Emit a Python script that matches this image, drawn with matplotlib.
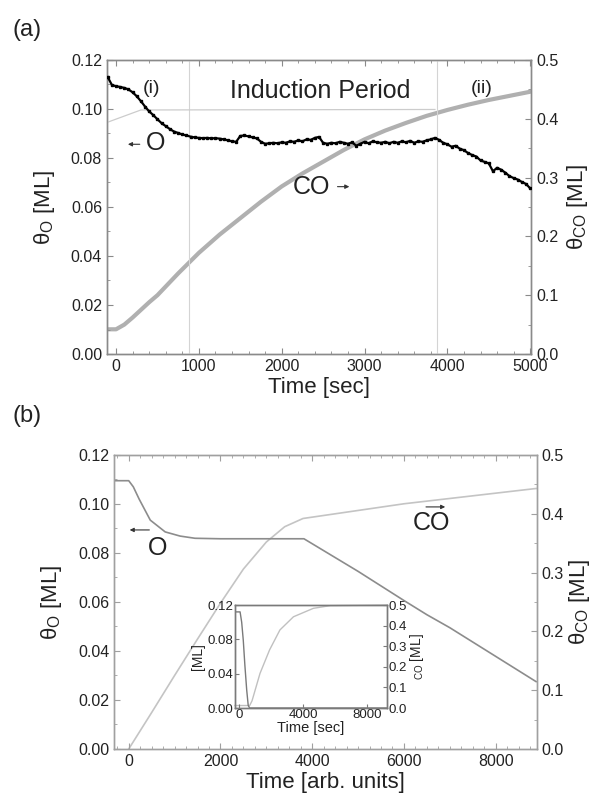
import matplotlib
matplotlib.use('Agg')
import matplotlib.pyplot as plt
from matplotlib.ticker import MultipleLocator, FormatStrFormatter

plt.rcParams['font.family'] = ['Liberation Sans', 'DejaVu Sans']
plt.rcParams['mathtext.fontset'] = 'custom'
plt.rcParams['mathtext.rm'] = 'Liberation Sans'
plt.rcParams['mathtext.it'] = 'Liberation Sans:italic'

# ---- panel (a): measured coverages ----
a_time_o = [-100, -50, 0, 50, 100, 150, 200, 250, 300, 350, 400, 450, 500, 550, 600, 650,
            700, 750, 800, 850, 900, 950, 1000, 1050, 1100, 1150, 1200, 1250, 1300, 1350,
            1400, 1450, 1500, 1550, 1600, 1650, 1700, 1750, 1800, 1850, 1900, 1950, 2000,
            2050, 2100, 2150, 2200, 2250, 2300, 2350, 2400, 2450, 2500, 2550, 2600, 2650,
            2700, 2750, 2800, 2850, 2900, 2950, 3000, 3050, 3100, 3150, 3200, 3250, 3300,
            3350, 3400, 3450, 3500, 3550, 3600, 3650, 3700, 3750, 3800, 3850, 3900, 3950,
            4000, 4050, 4100, 4150, 4200, 4250, 4300, 4350, 4400, 4450, 4500, 4550, 4600,
            4650, 4700, 4750, 4800, 4850, 4900, 4950, 5000]
a_theta_o = [0.1130, 0.1098, 0.1093, 0.1090, 0.1086, 0.1080, 0.1068, 0.1052, 0.1032, 0.1010,
             0.0990, 0.0975, 0.0958, 0.0942, 0.0930, 0.0918, 0.0908, 0.0902, 0.0896, 0.0892,
             0.0887, 0.0884, 0.0882, 0.0881, 0.0882, 0.0880, 0.0881, 0.0879, 0.0876, 0.0872,
             0.0868, 0.0866, 0.0890, 0.0892, 0.0888, 0.0884, 0.0880, 0.0866, 0.0858, 0.0860,
             0.0862, 0.0860, 0.0864, 0.0862, 0.0868, 0.0866, 0.0872, 0.0868, 0.0876, 0.0874,
             0.0882, 0.0886, 0.0862, 0.0858, 0.0862, 0.0860, 0.0866, 0.0862, 0.0858, 0.0864,
             0.0850, 0.0858, 0.0866, 0.0860, 0.0868, 0.0864, 0.0862, 0.0866, 0.0860, 0.0866,
             0.0862, 0.0868, 0.0864, 0.0870, 0.0862, 0.0868, 0.0866, 0.0872, 0.0876, 0.0882,
             0.0874, 0.0862, 0.0856, 0.0846, 0.0850, 0.0838, 0.0832, 0.0820, 0.0812, 0.0806,
             0.0790, 0.0784, 0.0778, 0.0746, 0.0760, 0.0752, 0.0740, 0.0726, 0.0718, 0.0712,
             0.0702, 0.0694, 0.0676]

a_time_co = [-100, 0, 100, 200, 300, 400, 500, 750, 1000, 1250, 1500, 1750, 2000, 2250,
             2500, 2750, 3000, 3250, 3500, 3750, 4000, 4250, 4500, 4750, 5000]
a_theta_co = [0.042, 0.042, 0.050, 0.062, 0.075, 0.088, 0.100, 0.137, 0.172, 0.203, 0.231,
              0.259, 0.285, 0.307, 0.327, 0.347, 0.365, 0.380, 0.393, 0.405, 0.415, 0.424,
              0.432, 0.439, 0.446]

# thin guide line and period boundaries
a_guide_t = [-110, 300, 3850]
a_guide_v = [0.0945, 0.0996, 0.0998]
a_bounds = [880, 3880]

# ---- panel (b): simulation ----
b_time_o = [-320, 0, 100, 227, 470, 795, 1120, 1445, 2000, 3000, 3820, 5000, 6000, 6500,
            7000, 8000, 8880]
b_theta_o = [0.1095, 0.1095, 0.1070, 0.1020, 0.0934, 0.0886, 0.0869, 0.0860, 0.0858,
             0.0858, 0.0858, 0.0725, 0.0606, 0.0548, 0.0495, 0.0378, 0.0275]
b_time_co = [0, 500, 1000, 1500, 2000, 2500, 3000, 3400, 3800, 6000, 8880]
b_theta_co = [0.0, 0.062, 0.125, 0.187, 0.248, 0.306, 0.352, 0.378, 0.392, 0.417, 0.443]

# inset
i_time_o = [-270, 50, 150, 250, 350, 465, 560, 650, 9250]
i_theta_o = [0.112, 0.112, 0.100, 0.079, 0.050, 0.021, 0.003, 0.0, 0.0]
i_time_co = [-270, 650, 800, 1300, 1900, 2550, 3400, 4650, 5700, 9250]
i_theta_co = [0.012, 0.012, 0.035, 0.168, 0.282, 0.379, 0.443, 0.484, 0.497, 0.5]

txt = '#222222'
spine_c = '#8a8a8a'


def style(ax, ax2, xmaj, xmin, spc, size=11.5):
    for a in (ax, ax2):
        for s in a.spines.values():
            s.set_color(spc)
            s.set_linewidth(1.0)
    ax.xaxis.set_major_locator(MultipleLocator(xmaj))
    ax.xaxis.set_minor_locator(MultipleLocator(xmin))
    ax.yaxis.set_major_locator(MultipleLocator(0.02))
    ax.yaxis.set_minor_locator(MultipleLocator(0.01))
    ax.yaxis.set_major_formatter(FormatStrFormatter('%.2f'))
    ax2.yaxis.set_major_locator(MultipleLocator(0.1))
    ax2.yaxis.set_minor_locator(MultipleLocator(0.05))
    ax2.yaxis.set_major_formatter(FormatStrFormatter('%.1f'))
    ax.tick_params(axis='x', which='both', direction='in', top=True, colors=spc,
                   labelcolor=txt, labelsize=size)
    ax.tick_params(axis='y', which='both', direction='in', colors=spc,
                   labelcolor=txt, labelsize=size)
    ax2.tick_params(axis='y', which='both', direction='in', colors=spc,
                    labelcolor=txt, labelsize=size)
    ax.tick_params(which='major', length=4)
    ax.tick_params(which='minor', length=2)
    ax2.tick_params(which='major', length=4)
    ax2.tick_params(which='minor', length=2)
    ax.set_ylim(0, 0.12)
    ax2.set_ylim(0, 0.5)
    ax.set_zorder(ax2.get_zorder() + 1)
    ax.patch.set_visible(False)


fig = plt.figure(figsize=(5.94, 8.02), dpi=100)

# ---------- (a) ----------
ax = fig.add_axes([0.180, 0.5586, 0.714, 0.3666])
ax2 = ax.twinx()
style(ax, ax2, 1000, 200, '#8a8a8a')
ax.set_xlim(-110, 5010)

for b in a_bounds:
    ax.axvline(b, color='#d4d4d4', lw=0.8, zorder=0)
ax.plot(a_guide_t, a_guide_v, color='#cccccc', lw=0.9, zorder=1)
ax2.plot(a_time_co, a_theta_co, color='#b0b0b0', lw=3.0, solid_capstyle='round')
ax.plot(a_time_o, a_theta_o, color='black', lw=1.6, marker='s', ms=1.8, zorder=3)

ax.set_xlabel('Time [sec]', fontsize=16, color=txt, labelpad=2)
ax.set_ylabel(r'θ$_{\rm O}$ [ML]', fontsize=16, color=txt, labelpad=10)
ax2.set_ylabel(r'θ$_{\rm CO}$ [ML]', fontsize=16, color=txt, labelpad=5, rotation=90)

ax.text(430, 0.1085, '(i)', fontsize=14, color=txt, ha='center', va='center')
ax.text(2470, 0.1075, 'Induction Period', fontsize=18, color=txt, ha='center', va='center')
ax.text(4420, 0.1085, '(ii)', fontsize=14, color=txt, ha='center', va='center')
ax.text(480, 0.0862, 'O', fontsize=18, color=txt, ha='center', va='center')
ax.annotate('', xy=(110, 0.0856), xytext=(320, 0.0856),
            arrowprops=dict(arrowstyle='-|>', color='#333333', lw=0.8, mutation_scale=6))
ax.text(2360, 0.0683, 'CO', fontsize=18, color=txt, ha='center', va='center')
ax.annotate('', xy=(2850, 0.0683), xytext=(2640, 0.0683),
            arrowprops=dict(arrowstyle='-|>', color='#333333', lw=0.8, mutation_scale=6))
fig.text(0.045, 0.962, '(a)', fontsize=17, color=txt, ha='center', va='center')

# ---------- (b) ----------
bx = fig.add_axes([0.192, 0.0661, 0.712, 0.3666])
bx2 = bx.twinx()
style(bx, bx2, 2000, 250, '#a0a0a0')
bx.set_xlim(-320, 8900)

bx2.plot(b_time_co, b_theta_co, color='#c4c4c4', lw=1.2)
bx.plot(b_time_o, b_theta_o, color='#8c8c8c', lw=1.2)

bx.set_xlabel('Time [arb. units]', fontsize=16, color=txt, labelpad=2)
bx.set_ylabel(r'θ$_{\rm O}$ [ML]', fontsize=16, color=txt, labelpad=10)
bx2.set_ylabel(r'θ$_{\rm CO}$ [ML]', fontsize=16, color=txt, labelpad=2, rotation=90)

bx.text(640, 0.0819, 'O', fontsize=18, color=txt, ha='center', va='center')
bx.annotate('', xy=(-40, 0.0894), xytext=(510, 0.0894),
            arrowprops=dict(arrowstyle='-|>', color='#333333', lw=0.8, mutation_scale=6))
bx.text(6590, 0.0922, 'CO', fontsize=18, color=txt, ha='center', va='center')
bx.annotate('', xy=(6960, 0.0988), xytext=(6420, 0.0988),
            arrowprops=dict(arrowstyle='-|>', color='#333333', lw=0.8, mutation_scale=6))
fig.text(0.045, 0.481, '(b)', fontsize=17, color=txt, ha='center', va='center')

# ---------- inset ----------
ix = fig.add_axes([0.3956, 0.1172, 0.2554, 0.1284])
ix2 = ix.twinx()
for a in (ix, ix2):
    for s in a.spines.values():
        s.set_color('#7a7a7a')
        s.set_linewidth(1.0)
ix.set_xlim(-270, 9250)
ix.set_ylim(0, 0.12)
ix2.set_ylim(0, 0.5)
ix.xaxis.set_major_locator(MultipleLocator(4000))
ix.yaxis.set_major_locator(MultipleLocator(0.04))
ix.yaxis.set_major_formatter(FormatStrFormatter('%.2f'))
ix2.yaxis.set_major_locator(MultipleLocator(0.1))
ix2.yaxis.set_major_formatter(FormatStrFormatter('%.1f'))
ix.tick_params(direction='in', length=3, pad=1, labelsize=9.5, colors='#7a7a7a', labelcolor=txt)
ix2.tick_params(direction='in', length=3, pad=1, labelsize=9.5, colors='#7a7a7a', labelcolor=txt)
ix2.plot(i_time_co, i_theta_co, color='#c0c0c0', lw=1.0, clip_on=False)
ix.plot(i_time_o, i_theta_o, color='#7a7a7a', lw=1.0)
ix.set_zorder(ix2.get_zorder() + 1)
ix.patch.set_visible(False)
ix.set_xlabel('Time [sec]', fontsize=10.5, color=txt, labelpad=0)
ix.set_ylabel('[ML]', fontsize=10, color=txt, labelpad=2)
ix2.set_ylabel(r'$_{\rm CO}$ [ML]', fontsize=10, color=txt, labelpad=1, rotation=90)

fig.savefig('out.png', dpi=100, facecolor='white')
